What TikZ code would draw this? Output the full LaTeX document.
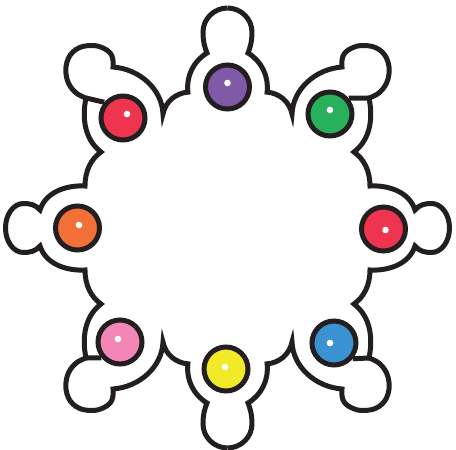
\documentclass[tikz,border=0pt]{standalone}
\usepackage{tikz}

\definecolor{inkblack}{HTML}{231F20}
\definecolor{beadpurple}{HTML}{805AA6}
\definecolor{beadgreen}{HTML}{28B05A}
\definecolor{beadred}{HTML}{EF3450}
\definecolor{beadblue}{HTML}{3A92D2}
\definecolor{beadyellow}{HTML}{F2EA28}
\definecolor{beadpink}{HTML}{F386B7}
\definecolor{beadorange}{HTML}{F27038}

\begin{document}
\begin{tikzpicture}[x=1pt, y=1pt,
    outline/.style={draw=inkblack, line width=5pt},
    bead/.style={circle, draw=inkblack, line width=5pt, minimum size=44pt, inner sep=0pt},
    glint/.style={fill=white},
  ]
  \useasboundingbox (-227.5,-222) rectangle (228.5,228);

  % one quarter of the ring outline, mirrored into the other three
  \foreach \sx/\sy/\q in {1/1/1, -1/1/2, -1/-1/3, 1/-1/4}{
    \begin{scope}[xscale=\sx, yscale=\sy]
      \draw[outline] (0,220) .. controls (13.5,220) and (24.5,209) .. (24.5,196)
        .. controls (24.5,186) and (22.5,180) .. (20.5,175)
        arc[start angle=59, end angle=-7, radius=40]
        .. controls (51,135) and (62,127) .. (64.5,114)
        .. controls (65.5,139) and (88,159) .. (114.5,161)
        -- plot[smooth, tension=0.7] coordinates {(114.5,161) (115.5,172) (123.5,179.5) (136.5,182.5) (151.5,178.5) (160.5,166) (160.5,149) (152.5,136) (141.5,130)}
        coordinate (j\q)
        .. controls (145.5,111) and (143.5,89) .. (126.5,76)
        .. controls (136.5,69) and (142.5,57) .. (142.5,42)
        .. controls (159.5,43) and (181.5,37) .. (187.5,18)
        .. controls (192,23.5) and (198,24.5) .. (204,24.5)
        .. controls (214,24.5) and (222,13.5) .. (222,0);
    \end{scope}
  }

  % beads
  \foreach \n/\x/\y/\c/\dx/\dy in {
      pur/0/141/beadpurple/0/4, grn/102.5/114/beadgreen/0/4,
      redr/156/-1/beadred/2/-1, blu/106.5/-115/beadblue/-4/0,
      yel/-1.5/-141/beadyellow/-1/2, pnk/-107.5/-114/beadpink/-2/3,
      org/-150/0/beadorange/1.5/3, redl/-104.5/110/beadred/4/4}{
    \node[bead, fill=\c] (\n) at (\x,\y) {};
    \fill[glint] (\n) ++(\dx,\dy) circle[radius=3.3];
  }

  % head stubs touching the diagonal beads
  \foreach \q/\n/\a in {1/grn/40, 2/redl/140, 3/pnk/220, 4/blu/-40}
    \draw[outline] (j\q) -- (\n.\a);
\end{tikzpicture}
\end{document}
